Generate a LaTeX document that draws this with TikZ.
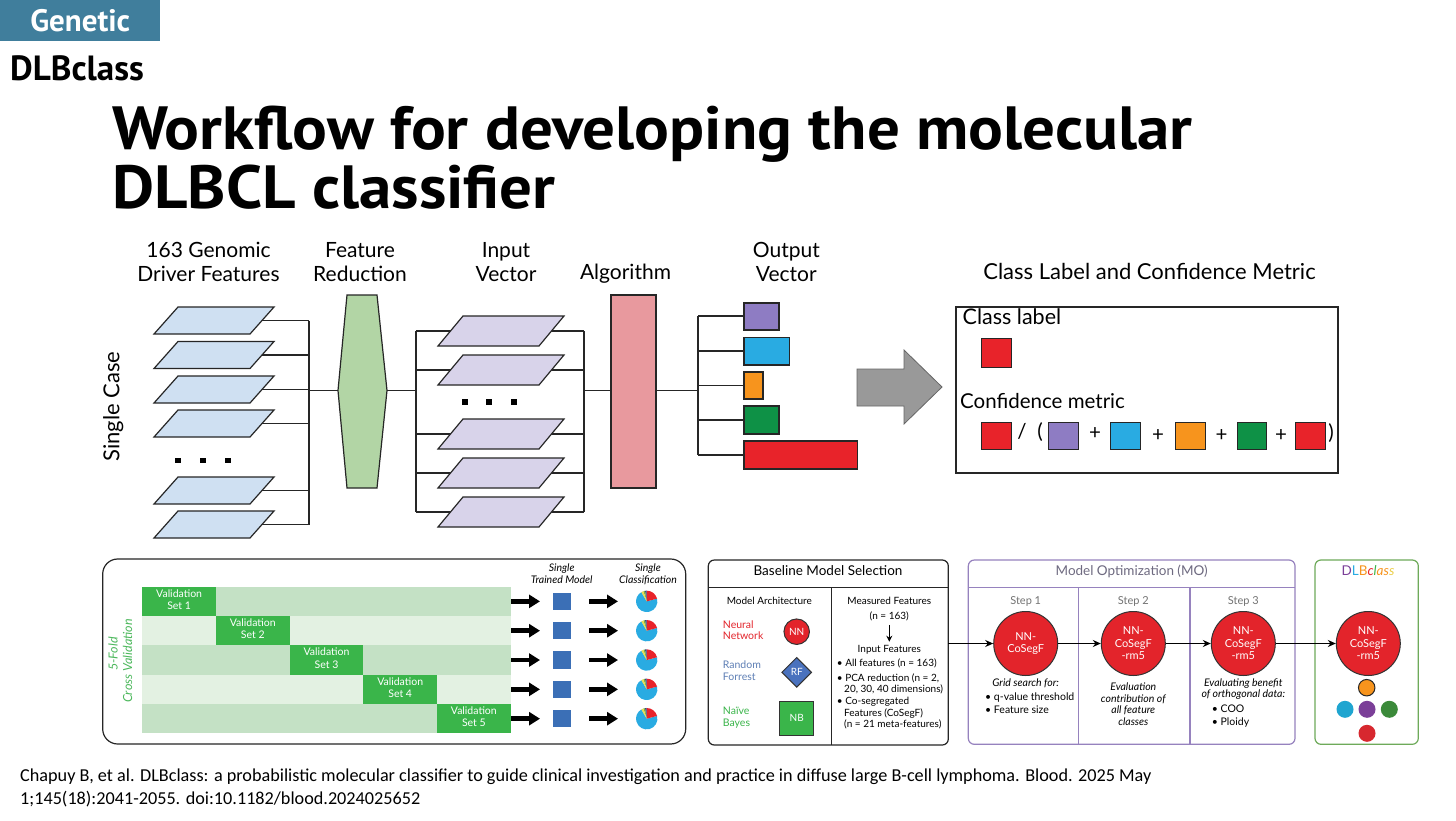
\documentclass[tikz,border=0pt]{standalone}
\usepackage{fontspec}
\setmainfont{Lato}
\newfontfamily\hfont{PT Sans}
\newfontfamily\cfont{Carlito}
\usetikzlibrary{arrows.meta,shapes.geometric}
\definecolor{teal}{HTML}{407E9C}
\definecolor{pblue}{HTML}{CFE0F2}
\definecolor{plav}{HTML}{D8D3EA}
\definecolor{hexg}{HTML}{B2D5A5}
\definecolor{algp}{HTML}{E8999E}
\definecolor{cpur}{HTML}{8E7CC3}
\definecolor{cblu}{HTML}{29ABE2}
\definecolor{cora}{HTML}{F7941D}
\definecolor{cgrn}{HTML}{0E9146}
\definecolor{cred}{HTML}{E8232A}
\definecolor{rowm}{HTML}{C4E1C5}
\definecolor{rowl}{HTML}{E3F1E2}
\definecolor{valg}{HTML}{3AB54A}
\definecolor{tmblue}{HTML}{3B6FB6}
\definecolor{nnred}{HTML}{E3242B}
\definecolor{rfblue}{HTML}{4A72BE}
\definecolor{rftxt}{HTML}{5E7FB5}
\definecolor{mopur}{HTML}{9682BE}
\definecolor{motxt}{HTML}{6E6A80}
\definecolor{dlbg}{HTML}{6EAA5A}
\definecolor{cvtxt}{HTML}{4CB85C}
\definecolor{navy}{HTML}{2E3A87}
\definecolor{pyel}{HTML}{E8DC50}
\definecolor{polv}{HTML}{7DB040}
\definecolor{sblu}{HTML}{1FA5D0}
\definecolor{spur}{HTML}{7B3F98}
\definecolor{sgrn}{HTML}{3B8A3A}
\definecolor{sred}{HTML}{D7282F}
\begin{document}
\begin{tikzpicture}[x=1pt,y=-1pt,
  ln/.style={draw=black!85, line width=1.2pt},
  tx/.style={inner sep=0pt, text height=0.72em, text depth=0.2em},
  ftop/.style={font=\fontsize{21}{25}\selectfont},
  fbox/.style={font=\fontsize{20.5}{24}\selectfont},
  fs/.style={font=\fontsize{10.5}{12}\selectfont},
  fsi/.style={font=\fontsize{10.5}{12}\selectfont\itshape},
  fm/.style={font=\fontsize{13.5}{15}\selectfont},
  bigarrow/.style={line width=4.5pt, -{Triangle[length=11pt,width=13pt]}},
  flow/.style={draw=black, line width=1.2pt, -{Stealth[length=8pt,width=7pt]}},
  bigc/.style={circle, fill=nnred, draw=black!80, line width=1pt, minimum size=64pt, inner sep=0pt, text=white, align=center, font=\fontsize{11}{12.5}\selectfont},
  sq/.style={draw=black!85, line width=1pt}
]
\useasboundingbox (0,0) rectangle (1456,821);
\fill[white] (0,0) rectangle (1456,821);

% header
\node[fill=teal, minimum width=160pt, minimum height=41pt, anchor=north west, inner sep=0pt, text=white, font=\hfont\bfseries\fontsize{31}{33}\selectfont] (gen) at (0,0) {Genetic};
\node[anchor=base west, inner sep=0pt, font=\hfont\bfseries\fontsize{35}{37}\selectfont] (dlb) at (10,81) {DLBclass};
\node[anchor=base west, inner sep=0pt, font=\hfont\bfseries\fontsize{61}{61}\selectfont] (t1) at (112,150) {\scalebox{1.065}[1]{Workflow for developing the molecular}};
\node[anchor=base west, inner sep=0pt, font=\hfont\bfseries\fontsize{61}{61}\selectfont] (t2) at (112,208) {\scalebox{1.065}[1]{DLBCL classifier}};

% top labels
\node[tx,ftop] (l1a) at (208.5,254.5) {163 Genomic};
\node[tx,ftop] (l1b) at (208.5,278.5) {Driver Features};
\node[tx,ftop] (l2a) at (360,254.5) {Feature};
\node[tx,ftop] (l2b) at (360,278.5) {Reduction};
\node[tx,ftop] (l3a) at (506,254.5) {Input};
\node[tx,ftop] (l3b) at (506,278.5) {Vector};
\node[tx,ftop] (l4) at (625.5,277) {Algorithm};
\node[tx,ftop] (l5a) at (786.3,254.5) {Output};
\node[tx,ftop] (l5b) at (786.3,278.5) {Vector};
\node[tx,font=\fontsize{22}{26}\selectfont] (l6) at (1149.5,277) {Class Label and Confidence Metric};
\node[tx,font=\fontsize{22}{26}\selectfont,rotate=90] (sc) at (116.7,406.5) {Single Case};

% blue parallelograms
\foreach \t in {307,341.5,376,410,477,511} {
  \draw[ln, fill=pblue] (154,\t+27) -- (250,\t+27) -- (274,\t) -- (178,\t) -- cycle;
  \draw[ln] (262,\t+13.5) -- (309,\t+13.5);
}
\draw[ln] (309,320.5) -- (309,524.5);
\foreach \x in {178,203,228} \fill (\x-2.75,457.5) rectangle ++(5.5,5.5);
\draw[ln] (309,390.5) -- (338,390.5);
% hexagon
\draw[ln, fill=hexg] (347,295) -- (377,295) -- (387,390.5) -- (377,488) -- (347,488) -- (338,390.5) -- cycle;
\draw[ln] (387,390.5) -- (416,390.5);
% lavender parallelograms
\draw[ln] (416,331) -- (416,512);
\draw[ln] (584,331) -- (584,512);
\foreach \t in {316,355,419,458,497} {
  \draw[ln] (416,\t+15) -- (452,\t+15);
  \draw[ln] (550,\t+15) -- (584,\t+15);
  \draw[ln, fill=plav] (438,\t+30) -- (539,\t+30) -- (564,\t) -- (463,\t) -- cycle;
}
\foreach \x in {465,489,514} \fill (\x-2.75,399) rectangle ++(5.5,5.5);
\draw[ln] (584,390.5) -- (611,390.5);
% algorithm
\draw[ln, fill=algp] (611,295) rectangle (656,488);
\draw[ln] (656,390.5) -- (698,390.5);
% output vector
\draw[ln] (698,316) -- (698,455);
\foreach \y in {316,351,385.5,420,455} \draw[ln] (698,\y) -- (744,\y);
\draw[ln, fill=cpur] (744,303) rectangle (779,330);
\draw[ln, fill=cblu] (744,337.5) rectangle (789.5,365);
\draw[ln, fill=cora] (744,372) rectangle (763,399);
\draw[ln, fill=cgrn] (744,406) rectangle (779,434);
\draw[ln, fill=cred] (744,441) rectangle (857.5,469);
% gray arrow
\draw[draw=black!60, line width=0.8pt, fill=black!40] (857,369) -- (904,369) -- (904,350) -- (942,387) -- (904,424) -- (904,406) -- (857,406) -- cycle;

% class label box
\draw[ln] (956,307) rectangle (1338,473);
\node[tx,font=\fontsize{21.5}{25}\selectfont,anchor=west] (cl) at (962.5,322) {Class label};
\draw[sq, fill=cred] (981,338.5) rectangle (1011,367);
\node[tx,fbox,anchor=west] (cm) at (960,406) {Confidence metric};
\draw[sq, fill=cred] (981,422) rectangle (1011,449.5);
\node[tx,fbox] at (1022,436) {/};
\node[tx,fbox] at (1040,436) {(};
\draw[sq, fill=cpur] (1048,422) rectangle (1078,449.5);
\node[tx,fbox] at (1095,437) {+};
\draw[sq, fill=cblu] (1110.5,422) rectangle (1140.5,449.5);
\node[tx,fbox] at (1158,439) {+};
\draw[sq, fill=cora] (1175,422) rectangle (1205.5,449.5);
\node[tx,fbox] at (1221.5,439) {+};
\draw[sq, fill=cgrn] (1237,422) rectangle (1266.5,449.5);
\node[tx,fbox] at (1281,439) {+};
\draw[sq, fill=cred] (1295.5,422) rectangle (1325,449.5);
\node[tx,fbox] at (1331,437) {)};

% ---------- bottom panel 1 ----------
\draw[ln, rounded corners=15pt] (102.7,559) rectangle (685.7,744);
\foreach \i in {0,...,4} {
  \pgfmathsetmacro{\yt}{586.7+\i*29.33}
  \pgfmathsetmacro{\yc}{\yt+14.67}
  \pgfmathsetmacro{\xv}{142.3+\i*73.68}
  \pgfmathtruncatemacro{\odd}{mod(\i,2)}
  \ifnum\odd=0 \fill[rowm] (142.3,\yt) rectangle (510.7,\yt+29.33);
  \else \fill[rowl] (142.3,\yt) rectangle (510.7,\yt+29.33); \fi
  \fill[valg] (\xv,\yt) rectangle (\xv+73.68,\yt+29.33);
  \pgfmathtruncatemacro{\n}{\i+1}
  \node[tx,fs,text=white] at (\xv+36.84,\yt+8) {Validation};
  \node[tx,fs,text=white] at (\xv+36.84,\yt+20.3) {Set \n};
  \coordinate (re\n) at (511,\yc);
  \coordinate (ae\n) at (540,\yc);
  \node[fill=tmblue, minimum size=17.5pt, inner sep=0pt] (tm\n) at (562.2,\yc) {};
  \coordinate (bs\n) at (589,\yc);
  \coordinate (be\n) at (618,\yc);
  \draw[bigarrow] (re\n) -- (ae\n);
  \draw[bigarrow] (bs\n) -- (be\n);
  \begin{scope}[shift={(646.7,\yc)}, yscale=-1]
    \fill[cblu] (0,0) -- (15:10.7) arc[start angle=15, end angle=-240, radius=10.7] -- cycle;
    \fill[cred] (0,0) -- (15:10.7) arc[start angle=15, end angle=90, radius=10.7] -- cycle;
    \fill[navy] (0,0) -- (90:10.7) arc[start angle=90, end angle=99, radius=10.7] -- cycle;
    \fill[polv] (0,0) -- (99:10.7) arc[start angle=99, end angle=108, radius=10.7] -- cycle;
    \fill[pyel] (0,0) -- (108:10.7) arc[start angle=108, end angle=120, radius=10.7] -- cycle;
  \end{scope}
}
\node[tx,fsi] at (561.7,569) {Single};
\node[tx,fsi] at (561.7,580.7) {Trained Model};
\node[tx,fsi] at (648,569) {Single};
\node[tx,fsi] at (648,580.7) {Classification};
\node[tx,rotate=90,text=cvtxt,font=\fontsize{12.5}{14}\selectfont\itshape] at (115,654) {5-Fold};
\node[tx,rotate=90,text=cvtxt,font=\fontsize{12.5}{14}\selectfont\itshape] at (129.5,661) {Cross Validation};

% ---------- panel 2 ----------
\draw[ln, rounded corners=6pt] (708.3,560) rectangle (948.3,745);
\draw[ln] (708.3,587.3) -- (948.3,587.3);
\draw[ln] (831.7,587.3) -- (831.7,745);
\node[tx,fm] at (828,573) {Baseline Model Selection};
\node[tx,font=\fontsize{10}{12}\selectfont] at (769.3,602) {Model Architecture};
\node[tx,fs,text=nnred,anchor=west] at (722.7,625.7) {Neural};
\node[tx,fs,text=nnred,anchor=west] at (722.7,637) {Network};
\node[tx,fs,text=rftxt,anchor=west] at (722.7,665.7) {Random};
\node[tx,fs,text=rftxt,anchor=west] at (722.7,677.7) {Forrest};
\node[tx,fs,text=valg,anchor=west] at (722.7,712.3) {Naïve};
\node[tx,fs,text=valg,anchor=west] at (722.7,724) {Bayes};
\node[circle, fill=nnred, draw=black!80, line width=1pt, minimum size=25.5pt, inner sep=0pt, text=white, font=\fontsize{10}{12}\selectfont] (nn) at (796.7,631.7) {NN};
\node[diamond, aspect=1, fill=rfblue, draw=black!80, line width=1pt, minimum width=30pt, minimum height=30pt, inner sep=0pt, text=white, font=\fontsize{10}{12}\selectfont] (rf) at (796.7,672.3) {RF};
\node[fill=valg, draw=black!80, line width=1pt, minimum size=34pt, inner sep=0pt, text=white, font=\fontsize{10}{12}\selectfont] (nb) at (796.7,718.3) {NB};
\node[tx,font=\fontsize{10}{12}\selectfont] (mf) at (889.3,602) {Measured Features};
\node[tx,font=\fontsize{10}{12}\selectfont] (n163) at (889.3,617) {(n = 163)};
\node[tx,font=\fontsize{10}{12}\selectfont] (inf) at (889.3,649.5) {Input Features};
\draw[draw=black, line width=1.2pt, -{Stealth[length=6pt,width=6pt]}, shorten <=3pt, shorten >=3pt] (n163) -- (inf);
\node[tx,font=\fontsize{10}{12}\selectfont,anchor=west] at (836.7,663.5) {• All features (n = 163)};
\node[tx,font=\fontsize{10}{12}\selectfont,anchor=west] at (836.7,678.5) {• PCA reduction (n = 2,};
\node[tx,font=\fontsize{10}{12}\selectfont,anchor=west] at (844,690.2) {20, 30, 40 dimensions)};
\node[tx,font=\fontsize{10}{12}\selectfont,anchor=west] at (836.7,702) {• Co-segregated};
\node[tx,font=\fontsize{10}{12}\selectfont,anchor=west] at (844,713.5) {Features (CoSegF)};
\node[tx,font=\fontsize{10}{12}\selectfont,anchor=west] at (844,725.2) {(n = 21 meta-features)};
\coordinate (bms) at (948.3,643.5);

% ---------- panel 3 ----------
\draw[draw=mopur, line width=1.2pt, rounded corners=6pt] (968.3,560) rectangle (1295,744.3);
\draw[draw=mopur, line width=1.2pt] (968.3,587.3) -- (1295,587.3);
\draw[draw=mopur, line width=1.2pt] (1078.3,587.3) -- (1078.3,744.3);
\draw[draw=mopur, line width=1.2pt] (1190,587.3) -- (1190,744.3);
\node[tx,fm,text=motxt] at (1131.7,573) {Model Optimization (MO)};
\node[tx,font=\fontsize{11}{13}\selectfont,text=black!55] at (1025.7,601.5) {Step 1};
\node[tx,font=\fontsize{11}{13}\selectfont,text=black!55] at (1133.3,601.5) {Step 2};
\node[tx,font=\fontsize{11}{13}\selectfont,text=black!55] at (1243.3,601.5) {Step 3};
\node[bigc] (s1) at (1025.7,643.5) {NN-\\CoSegF};
\node[bigc] (s2) at (1133.3,643.5) {NN-\\CoSegF\\-rm5};
\node[bigc] (s3) at (1243.3,643.5) {NN-\\CoSegF\\-rm5};
\node[tx,fsi] at (1025.7,684.3) {Grid search for:};
\node[tx,fs,anchor=west] at (985,698) {• q-value threshold};
\node[tx,fs,anchor=west] at (985,711) {• Feature size};
\node[tx,fsi] at (1133.3,688) {Evaluation};
\node[tx,fsi] at (1133.3,699.6) {contribution of};
\node[tx,fsi] at (1133.3,711) {all feature};
\node[tx,fsi] at (1133.3,722.6) {classes};
\node[tx,fsi] at (1243.3,684) {Evaluating benefit};
\node[tx,fsi] at (1243.3,695.3) {of orthogonal data:};
\node[tx,fs,anchor=west] at (1211.7,710.3) {• COO};
\node[tx,fs,anchor=west] at (1211.7,722.6) {• Ploidy};

% ---------- panel 4 ----------
\draw[draw=dlbg, line width=1.2pt, rounded corners=6pt] (1315,560) rectangle (1418.3,744.3);
\node[tx,fm] at (1368,573) {\textcolor{spur}{D}\textcolor{cblu}{L}\textcolor{cora}{B}\textit{\textcolor{cred}{c}\textcolor{valg}{l}\textcolor{cora}{a}\textcolor{cora}{s}\textcolor{pyel!80!cora}{s}}};
\node[bigc] (s4) at (1368.3,643.5) {NN-\\CoSegF\\-rm5};
\node[circle, fill=cora, draw=black!85, line width=1pt, minimum size=16.5pt, inner sep=0pt] (co) at (1366.7,687.7) {};
\node[circle, fill=sblu, minimum size=17pt, inner sep=0pt] (cb) at (1345,709.3) {};
\node[circle, fill=spur, minimum size=17pt, inner sep=0pt] (cp) at (1367,709.3) {};
\node[circle, fill=sgrn, minimum size=17pt, inner sep=0pt] (cg) at (1389.3,709.3) {};
\node[circle, fill=sred, minimum size=17pt, inner sep=0pt] (cr) at (1367,733.3) {};

% flow arrows
\draw[flow] (bms) -- (s1);
\draw[flow] (s1) -- (s2);
\draw[flow] (s2) -- (s3);
\draw[flow] (s3) -- (s4);

% citation
\node[tx,anchor=west,font=\cfont\fontsize{18.2}{21}\selectfont] (cit1) at (20,779) {Chapuy B, et al. DLBclass: a probabilistic molecular classifier to guide clinical investigation and practice in diffuse large B-cell lymphoma. Blood. 2025 May};
\node[tx,anchor=west,font=\cfont\fontsize{18.2}{21}\selectfont] (cit2) at (20,801.5) {1;145(18):2041-2055. doi:10.1182/blood.2024025652};
\end{tikzpicture}
\end{document}
